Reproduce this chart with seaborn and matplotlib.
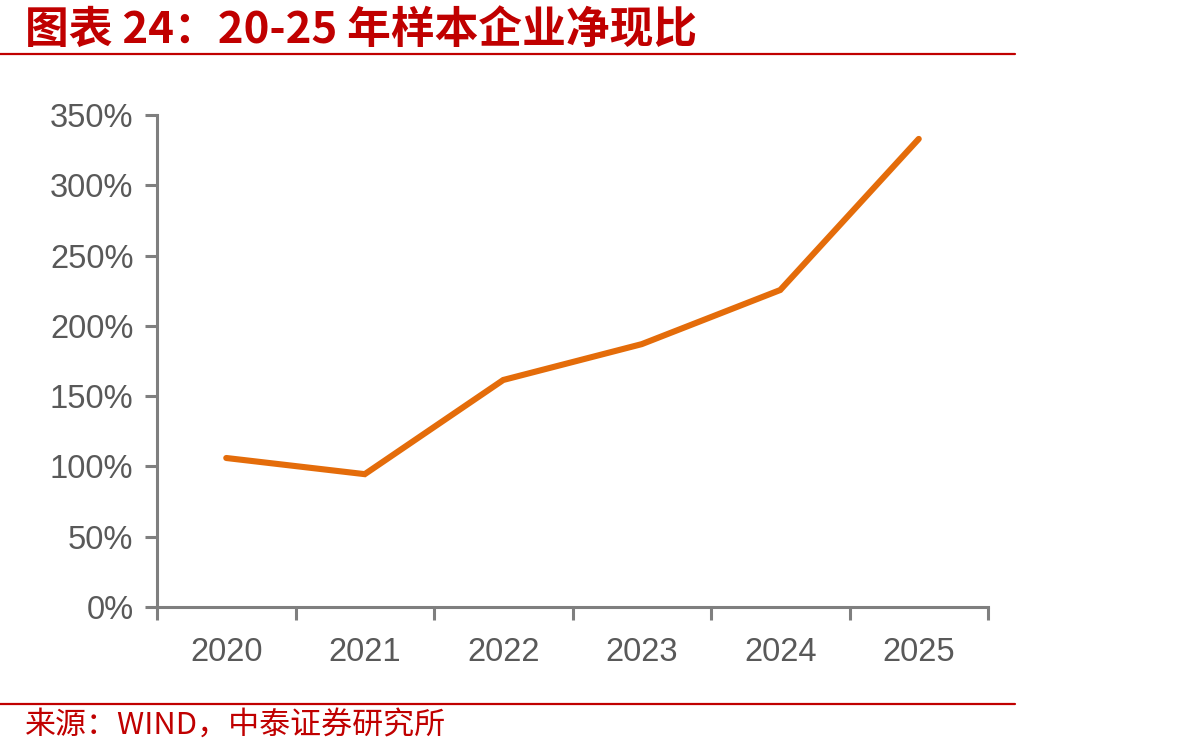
import matplotlib
matplotlib.use("Agg")
import matplotlib.pyplot as plt
import seaborn as sns
import pandas as pd
from matplotlib.ticker import FixedLocator, FuncFormatter
from matplotlib.lines import Line2D

years = ["2020", "2021", "2022", "2023", "2024", "2025"]
ratio = [106, 94.5, 161.5, 187, 225.5, 333]
yticks = [0, 50, 100, 150, 200, 250, 300, 350]

title = "图表 24：20-25 年样本企业净现比"
source = "来源：WIND，中泰证券研究所"

sns.set_theme(style="white")
plt.rcParams['font.family'] = ['Liberation Sans', 'Noto Sans CJK SC', 'DejaVu Sans']

df = pd.DataFrame({"year": years, "ratio": ratio})

fig = plt.figure(figsize=(11.92, 7.56), dpi=100)
ax = fig.add_axes([157/1192, 1-607/756, (988-157)/1192, (607-115)/756])

sns.lineplot(data=df, x="year", y="ratio", ax=ax, color="#E46C0A", linewidth=4.4,
             solid_capstyle="round", solid_joinstyle="miter")

ax.set_xlim(-0.5, len(years) - 0.5)
ax.set_ylim(0, 350)
ax.set_yticks(yticks)
ax.yaxis.set_major_formatter(FuncFormatter(lambda v, p: f"{int(v)}%"))
ax.set_xlabel("")
ax.set_ylabel("")

grey = "#7F7F7F"
for s in ["top", "right"]:
    ax.spines[s].set_visible(False)
for s in ["left", "bottom"]:
    ax.spines[s].set_color(grey)
    ax.spines[s].set_linewidth(2.2)

ax.xaxis.set_minor_locator(FixedLocator([i - 0.5 for i in range(len(years) + 1)]))
ax.tick_params(axis="x", which="both", bottom=True)
ax.tick_params(axis="y", which="both", left=True)
ax.tick_params(axis="x", which="major", length=0, pad=21.5, labelsize=23.5, labelcolor="#595959")
ax.tick_params(axis="x", which="minor", length=9.5, width=2.2, color=grey, direction="out")
ax.tick_params(axis="y", which="major", length=9, width=2.2, color=grey, direction="out",
               pad=8, labelsize=23.5, labelcolor="#595959")
ax.tick_params(axis="y", which="minor", left=False)
ax.grid(False)

red = "#C00000"
fig.text(25/1192, 1-30/756, title, color=red, fontsize=31.5, fontweight="bold", fontstyle="italic",
         family=['Noto Sans CJK SC', 'DejaVu Sans'], va="center", ha="left")
fig.add_artist(Line2D([0, 1015/1192], [1-54/756, 1-54/756], color=red, linewidth=1.6,
                      transform=fig.transFigure))
fig.add_artist(Line2D([0, 1015/1192], [1-704/756, 1-704/756], color=red, linewidth=1.6,
                      transform=fig.transFigure))
fig.text(25/1192, 1-725/756, source, color=red, fontsize=22.3,
         family=['Noto Sans CJK SC', 'DejaVu Sans'], va="center", ha="left")

fig.savefig("out.png", dpi=100, facecolor="white")
